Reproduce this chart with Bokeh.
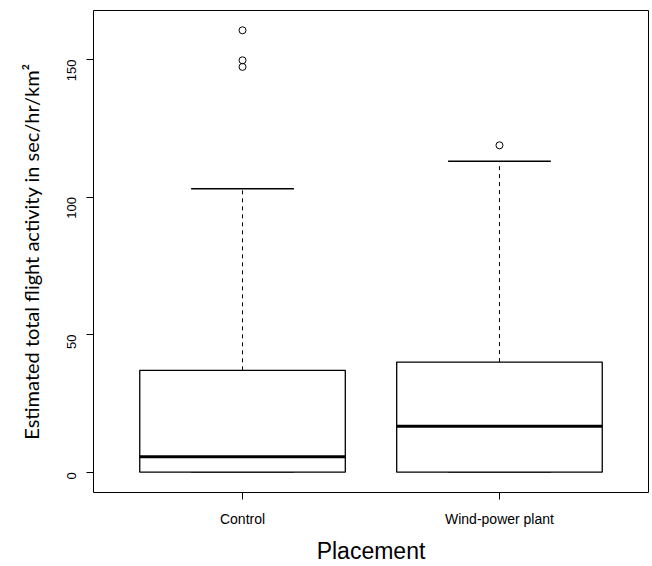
import math
from bokeh.plotting import figure
from bokeh.models import Range1d, FixedTicker
from bokeh.embed import file_html
from bokeh.resources import INLINE

# ---- data ----
categories = ["Control", "Wind-power plant"]
positions = [1, 2]
q1 = [0.0, 0.0]
median = [5.6, 16.7]
q3 = [37.0, 40.0]
lower_whisker = [0.0, 0.0]
upper_whisker = [103.0, 113.0]
outliers_control = [147.3, 149.7, 160.6]
outliers_wind = [118.8]
y_ticks = [0, 50, 100, 150]

box_width = 0.8
cap_half = box_width / 4

p = figure(width=652, height=566, output_backend="svg", toolbar_location=None,
           x_range=Range1d(0.42, 2.58), y_range=Range1d(-7.4, 167.8),
           min_border_left=93, min_border_right=4, min_border_top=10, min_border_bottom=73)
p.background_fill_color = "white"
p.border_fill_color = "white"
p.outline_line_color = "black"
p.outline_line_width = 1
p.xgrid.visible = False
p.ygrid.visible = False

# whiskers (dashed)
p.segment(x0=positions, y0=q3, x1=positions, y1=upper_whisker,
          line_color="black", line_width=1, line_dash="4 4")
p.segment(x0=positions, y0=lower_whisker, x1=positions, y1=q1,
          line_color="black", line_width=1, line_dash="4 4")
# whisker caps
p.segment(x0=[x - cap_half for x in positions], y0=upper_whisker,
          x1=[x + cap_half for x in positions], y1=upper_whisker,
          line_color="black", line_width=1.3)
p.segment(x0=[x - cap_half for x in positions], y0=lower_whisker,
          x1=[x + cap_half for x in positions], y1=lower_whisker,
          line_color="black", line_width=1.3)
# boxes
p.vbar(x=positions, width=box_width, bottom=q1, top=q3,
       fill_color="white", line_color="black", line_width=1.3)
# medians
p.segment(x0=[x - box_width / 2 for x in positions], y0=median,
          x1=[x + box_width / 2 for x in positions], y1=median,
          line_color="black", line_width=3)
# outliers
p.scatter(x=[positions[0]] * len(outliers_control), y=outliers_control,
          marker="circle", size=7, fill_color=None, line_color="black", line_width=1)
p.scatter(x=[positions[1]] * len(outliers_wind), y=outliers_wind,
          marker="circle", size=7, fill_color=None, line_color="black", line_width=1)

# x axis
xa = p.xaxis[0]
xa.ticker = FixedTicker(ticks=positions)
xa.major_label_overrides = {pos: name for pos, name in zip(positions, categories)}
xa.axis_line_color = None
xa.major_tick_in = 0
xa.major_tick_out = 7
xa.minor_tick_line_color = None
xa.major_label_text_font = "Liberation Sans"
xa.major_label_text_font_size = "14px"
xa.major_label_text_color = "black"
xa.major_label_standoff = 11
xa.axis_label = "Placement"
xa.axis_label_text_font = "Liberation Sans"
xa.axis_label_text_font_size = "23px"
xa.axis_label_text_font_style = "normal"
xa.axis_label_text_color = "black"
xa.axis_label_standoff = 8

# y axis
ya = p.yaxis[0]
ya.ticker = FixedTicker(ticks=y_ticks)
ya.axis_line_color = None
ya.major_tick_in = 0
ya.major_tick_out = 7
ya.minor_tick_line_color = None
ya.major_label_orientation = math.pi / 2
ya.major_label_text_font = "Liberation Sans"
ya.major_label_text_font_size = "13px"
ya.major_label_text_color = "black"
ya.major_label_standoff = 15
ya.axis_label = "Estimated total flight activity in sec/hr/km²"
ya.axis_label_text_font = "Lato"
ya.axis_label_text_font_size = "20px"
ya.axis_label_text_font_style = "normal"
ya.axis_label_text_color = "black"
ya.axis_label_standoff = 17

open("out.html", "w").write(file_html(p, INLINE))
